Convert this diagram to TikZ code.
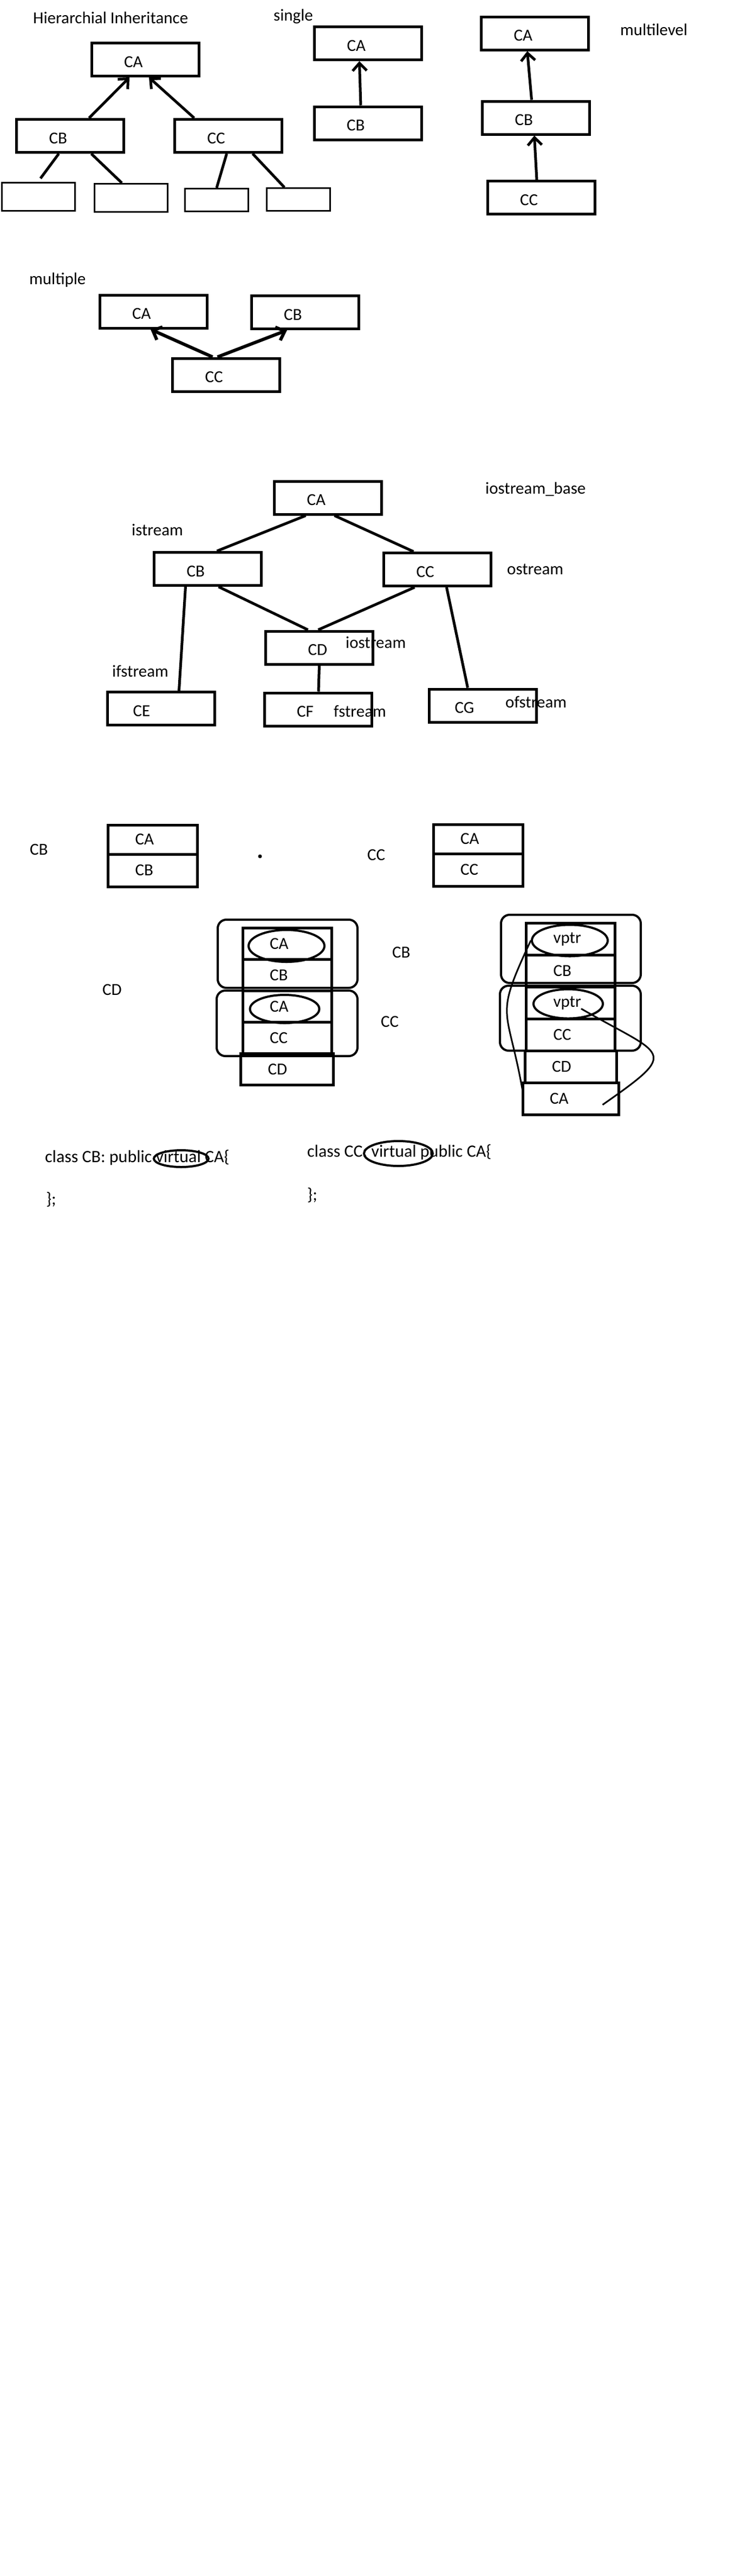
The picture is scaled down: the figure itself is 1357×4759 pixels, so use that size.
\documentclass[tikz,border=0pt]{standalone}
\usepackage{fontspec}
\setmainfont{Carlito}
\usetikzlibrary{positioning,shapes,arrows.meta}
\tikzstyle{cls} = [draw, rectangle, line width=5pt, minimum height=61pt, inner xsep=60pt, text width=78pt, text height=29pt, align=left]
\tikzstyle{leaf} = [draw, rectangle, line width=3pt]
\tikzstyle{cell} = [draw, rectangle, line width=5pt, outer sep=0pt, inner xsep=50pt, text width=64pt, align=left, minimum height=58pt]
\tikzstyle{grp} = [draw, rectangle, line width=4pt, rounded corners=16pt]
\tikzstyle{oval} = [draw, ellipse, line width=4pt, inner sep=0pt]
\tikzstyle{txt} = [anchor=base west, inner sep=0pt]
\tikzstyle{code} = [txt, font=\fontsize{32}{38}\selectfont]
\tikzstyle{link} = [draw, line width=5pt]
\tikzstyle{inherit} = [draw, line width=5pt, -{Straight Barb[length=14pt,width=26pt]}]
\tikzstyle{ptr} = [draw, line width=3pt]

\begin{document}
\begin{tikzpicture}[x=1pt, y=-1pt, every node/.style={font=\fontsize{31}{37}\selectfont}]
    \fill [white] (0,0) rectangle (1357,4759);
    \useasboundingbox (0,0) rectangle (1357,4759);

    % Place headings
    \node [txt] (t-hier) at (61,43) {Hierarchial Inheritance};
    \node [txt] (t-single) at (505,38) {single};
    \node [txt] (t-multilevel) at (1145,65) {multilevel};
    \node [txt] (t-multiple) at (54,525) {multiple};

    % Hierarchial
    \node [cls] (hCA) at (268,110) {CA};
    \node [cls] (hCB) at (129.5,251) {CB};
    \node [cls] (hCC) at (421.5,251) {CC};
    \node [leaf, minimum width=135pt, minimum height=52pt] (hD1) at (71,363.5) {};
    \node [leaf, minimum width=135pt, minimum height=52pt] (hD2) at (242,365.5) {};
    \node [leaf, minimum width=117pt, minimum height=42pt] (hD3) at (400,369.5) {};
    \node [leaf, minimum width=117pt, minimum height=42pt] (hD4) at (551,368.5) {};
    \path [inherit] ([xshift=35pt]hCB.north) -- ([xshift=-29pt]hCA.south);
    \path [inherit] ([xshift=-63pt]hCC.north) -- ([xshift=7pt]hCA.south);
    \path [link, shorten >=8pt] ([xshift=-21pt]hCB.south) -- ([xshift=-1pt]hD1.north);
    \path [link] ([xshift=39pt]hCB.south) -- ([xshift=-17pt]hD2.north);
    \path [link] ([xshift=-3pt]hCC.south) -- (hD3.north);
    \path [link] ([xshift=45pt]hCC.south) -- ([xshift=-26pt]hD4.north);

    % Single
    \node [cls] (sCA) at (679.5,80) {CA};
    \node [cls] (sCB) at (679,227.5) {CB};
    \path [inherit] ([xshift=-13pt]sCB.north) -- ([xshift=-16pt]sCA.south);

    % Multilevel
    \node [cls] (mCA) at (987.5,61.5) {CA};
    \node [cls] (mCB) at (989.5,217.5) {CB};
    \node [cls] (mCC) at (999,365) {CC};
    \path [inherit] ([xshift=-8pt]mCB.north) -- ([xshift=-14pt]mCA.south);
    \path [inherit] ([xshift=-8pt]mCC.north) -- ([xshift=-3pt]mCB.south);

    % Multiple
    \node [cls] (uCA) at (283,575.5) {CA};
    \node [cls] (uCB) at (563,577) {CB};
    \node [cls] (uCC) at (417.5,692.5) {CC};
    \path [inherit, line width=6pt] ([xshift=-25pt]uCC.north) -- ([xshift=-5pt]uCA.south);
    \path [inherit, line width=6pt] ([xshift=-16pt]uCC.north) -- ([xshift=-33pt]uCB.south);

    % iostream family
    \node [cls] (iCA) at (605.5,919.5) {CA};
    \node [cls] (iCB) at (383.5,1051) {CB};
    \node [cls] (iCC) at (807.5,1052) {CC};
    \node [cls, inner xsep=78pt, text width=42pt] (iCD) at (589.5,1196.5) {CD};
    \node [cls, inner xsep=47pt, text width=104pt] (iCE) at (297.5,1309) {CE};
    \node [cls] (iCF) at (587,1310.5) {CF};
    \node [cls, inner xsep=47pt, text width=104pt] (iCG) at (891.5,1303.5) {CG};
    \node [txt] (l-base) at (896,912) {iostream\_base};
    \node [txt] (l-istream) at (243,989) {istream};
    \node [txt] (l-ostream) at (936,1061) {ostream};
    \node [txt] (l-iostream) at (638,1197) {iostream};
    \node [txt] (l-ifstream) at (207,1250) {ifstream};
    \node [txt] (l-fstream) at (616,1324) {fstream};
    \node [txt] (l-ofstream) at (933,1307) {ofstream};
    \path [link] ([xshift=-41pt]iCA.south) -- ([xshift=17pt]iCB.north);
    \path [link] ([xshift=12pt]iCA.south) -- ([xshift=-44pt]iCC.north);
    \path [link] ([xshift=20pt]iCB.south) -- ([xshift=-21pt]iCD.north);
    \path [link] ([xshift=-42pt]iCC.south) -- ([xshift=-2pt]iCD.north);
    \path [link] ([xshift=-41pt]iCB.south) -- ([xshift=33pt]iCE.north);
    \path [link] (iCD.south) -- ([xshift=1pt]iCF.north);
    \path [link] ([xshift=17pt]iCC.south) -- ([xshift=-28pt]iCG.north);

    % Object layouts
    \node [txt] (l-CB) at (55,1579) {CB};
    \node [cell, minimum height=54pt, text width=65pt] (tB1) at (282,1551) {CA};
    \node [cell, minimum height=60pt, text width=65pt, below=0pt of tB1] (tB2) {CB};
    \node [circle, fill, inner sep=0pt, minimum size=7pt] (dot) at (480,1582) {};
    \node [txt] (l-CC) at (678,1589) {CC};
    \node [cell, minimum height=54pt, text width=65pt] (tC1) at (882.5,1550) {CA};
    \node [cell, minimum height=60pt, text width=65pt, below=0pt of tC1] (tC2) {CC};

    % Virtual layout, left
    \node [txt] (l-CD) at (189,1838) {CD};
    \node [txt] (l-CB2) at (724,1769) {CB};
    \node [txt] (l-CC2) at (703,1897) {CC};
    \node [grp, minimum width=258pt, minimum height=126pt] (lG1) at (531,1762) {};
    \node [grp, minimum width=260pt, minimum height=121pt] (lG2) at (530,1890.5) {};
    \node [cell] (lA1) at (530,1743.5) {CA};
    \node [cell, below=0pt of lA1] (lB) {CB};
    \node [cell, below=0pt of lB] (lA2) {CA};
    \node [cell, below=0pt of lA2] (lC) {CC};
    \node [cell, below=0pt of lC, text width=71pt] (lD) {CD};
    \node [oval, minimum width=140pt, minimum height=59pt] (lE1) at (529,1747.5) {};
    \node [oval, minimum width=128pt, minimum height=52pt] (lE2) at (525.5,1864) {};

    % Virtual layout, right
    \node [grp, minimum width=258pt, minimum height=126pt] (rG1) at (1054,1753) {};
    \node [grp, minimum width=260pt, minimum height=120pt] (rG2) at (1053,1881) {};
    \node [cell, minimum height=59pt] (rV1) at (1053.5,1735) {vptr};
    \node [cell, minimum height=59pt, below=0pt of rV1] (rB) {CB};
    \node [cell, minimum height=59pt, below=0pt of rB] (rV2) {vptr};
    \node [cell, minimum height=59pt, below=0pt of rV2] (rC) {CC};
    \node [cell, minimum height=59pt, below=0pt of rC, text width=69pt] (rD) {CD};
    \node [cell, minimum height=59pt, below=0pt of rD, text width=77pt] (rA) {CA};
    \node [oval, minimum width=140pt, minimum height=58pt] (rE1) at (1052,1737.5) {};
    \node [oval, minimum width=128pt, minimum height=54pt] (rE2) at (1049,1854.5) {};
    \path [ptr] (rE1.west) to[out=245, in=100, looseness=1.5] ([yshift=14pt]rA.west);
    \path [ptr] ([xshift=24pt,yshift=-9pt]rE2.center) to[out=-30, in=35, looseness=2.5] ([xshift=59pt,yshift=-11pt]rA.center);

    % Code
    \node [code] (c1) at (83,2147) {class CB: public virtual CA\{};
    \node [code] (c1e) at (85,2225) {\};};
    \node [code] (c2) at (567,2137) {class CC: virtual public CA\{};
    \node [code] (c2e) at (567,2217) {\};};
    \node [oval, minimum width=101pt, minimum height=31pt] (cv1) at (334.5,2140.5) {};
    \node [oval, minimum width=127pt, minimum height=46pt] (cv2) at (735.5,2131) {};
\end{tikzpicture}
\end{document}
